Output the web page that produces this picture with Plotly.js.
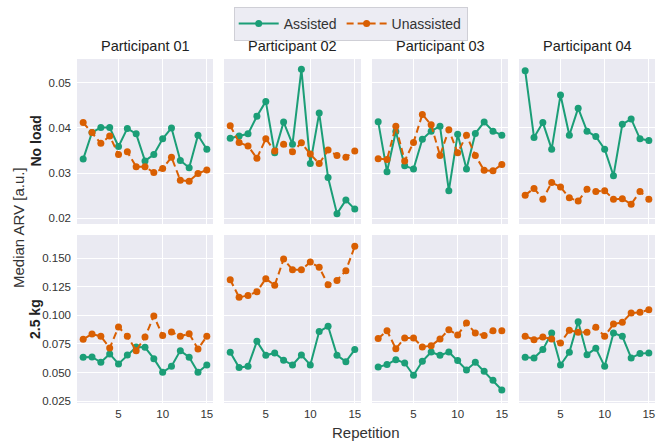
<!DOCTYPE html>
<html>
<head>
<meta charset="utf-8">
<script src="https://cdn.plot.ly/plotly-3.0.1.min.js"></script>
<style>html,body{margin:0;padding:0;background:#fff;}#chart{width:668px;height:442px;}</style>
</head>
<body>
<div id="chart"></div>
<script>
const reps = [1,2,3,4,5,6,7,8,9,10,11,12,13,14,15];
const participants = ["Participant 01","Participant 02","Participant 03","Participant 04"];
const conditions = ["No load","2.5 kg"];
const seriesNames = ["Assisted","Unassisted"];

// No load
const assisted_noload_p01 = [0.0331,0.0390,0.0401,0.0401,0.0359,0.0399,0.0387,0.0327,0.0341,0.0376,0.0400,0.0328,0.0312,0.0384,0.0353];
const unassisted_noload_p01 = [0.0412,0.0390,0.0366,0.0382,0.0341,0.0347,0.0314,0.0314,0.0301,0.0310,0.0335,0.0284,0.0282,0.0299,0.0307];
const assisted_noload_p02 = [0.0377,0.0382,0.0387,0.0426,0.0459,0.0345,0.0413,0.0364,0.0530,0.0321,0.0433,0.0290,0.0210,0.0240,0.0220];
const unassisted_noload_p02 = [0.0405,0.0368,0.0360,0.0333,0.0376,0.0349,0.0364,0.0347,0.0367,0.0342,0.0321,0.0351,0.0339,0.0335,0.0349];
const assisted_noload_p03 = [0.0414,0.0303,0.0392,0.0316,0.0309,0.0375,0.0393,0.0404,0.0261,0.0386,0.0309,0.0388,0.0413,0.0393,0.0384];
const unassisted_noload_p03 = [0.0332,0.0330,0.0404,0.0327,0.0368,0.0430,0.0407,0.0339,0.0396,0.0345,0.0384,0.0339,0.0306,0.0305,0.0319];
const assisted_noload_p04 = [0.0527,0.0379,0.0412,0.0353,0.0473,0.0384,0.0444,0.0393,0.0381,0.0353,0.0294,0.0408,0.0420,0.0376,0.0372];
const unassisted_noload_p04 = [0.0251,0.0266,0.0242,0.0279,0.0269,0.0245,0.0238,0.0264,0.0259,0.0261,0.0242,0.0243,0.0231,0.0259,0.0242];

// 2.5 kg
const assisted_load_p01 = [0.0634,0.0637,0.0590,0.0663,0.0576,0.0654,0.0724,0.0721,0.0622,0.0503,0.0555,0.0692,0.0634,0.0503,0.0567];
const unassisted_load_p01 = [0.0791,0.0837,0.0817,0.0715,0.0898,0.0817,0.0692,0.0811,0.0994,0.0823,0.0855,0.0817,0.0840,0.0706,0.0817];
const assisted_load_p02 = [0.0677,0.0544,0.0555,0.0773,0.0651,0.0672,0.0608,0.0567,0.0654,0.0567,0.0858,0.0904,0.0651,0.0596,0.0701];
const unassisted_load_p02 = [0.1311,0.1157,0.1174,0.1206,0.1320,0.1262,0.1491,0.1398,0.1398,0.1465,0.1419,0.1267,0.1305,0.1390,0.1602];
const assisted_load_p03 = [0.0549,0.0570,0.0613,0.0584,0.0477,0.0599,0.0680,0.0651,0.0680,0.0605,0.0523,0.0590,0.0512,0.0433,0.0349];
const unassisted_load_p03 = [0.0797,0.0866,0.0709,0.0802,0.0802,0.0724,0.0735,0.0794,0.0875,0.0828,0.0933,0.0846,0.0823,0.0866,0.0866];
const assisted_load_p04 = [0.0634,0.0628,0.0701,0.0846,0.0567,0.0677,0.0945,0.0657,0.0712,0.0555,0.0846,0.0817,0.0628,0.0666,0.0672];
const unassisted_load_p04 = [0.0817,0.0788,0.0811,0.0794,0.0759,0.0869,0.0852,0.0852,0.0895,0.0817,0.0924,0.0939,0.1020,0.1026,0.1049];

const xTicks = [5,10,15];
const yTicksTop = [0.02,0.03,0.04,0.05];
const yTicksBottom = [0.025,0.050,0.075,0.100,0.125,0.150];

const grid = [
  [[assisted_noload_p01,unassisted_noload_p01],[assisted_noload_p02,unassisted_noload_p02],[assisted_noload_p03,unassisted_noload_p03],[assisted_noload_p04,unassisted_noload_p04]],
  [[assisted_load_p01,unassisted_load_p01],[assisted_load_p02,unassisted_load_p02],[assisted_load_p03,unassisted_load_p03],[assisted_load_p04,unassisted_load_p04]]
];

const W = 668, H = 442;
const colPx = [[77,213],[224,361],[372,508],[519,655]];
const rowPx = [[59,224],[235,403]];
const colors = ["#1b9e77","#d95f02"];
const dashes = ["solid","7px,4px"];
const FONT = "Liberation Sans, Arial, sans-serif";
const bg = "#eaeaf2";

const traces = [];
const layout = {
  width: W, height: H,
  margin: {l:0,r:0,t:0,b:0},
  paper_bgcolor: "#ffffff",
  plot_bgcolor: bg,
  font: {family: FONT, size: 11, color: "#333"},
  showlegend: true,
  legend: {
    orientation: "h", x: 0.525, xanchor: "center", y: 1 - 7/H, yanchor: "top",
    bgcolor: "#ececf3", bordercolor: "#cfcfd6", borderwidth: 1,
    font: {size: 14, color: "#333", family: FONT}, itemwidth: 40, tracegroupgap: 0
  },
  annotations: [],
  shapes: []
};

let idx = 0;
for (let r = 0; r < 2; r++) {
  for (let c = 0; c < 4; c++) {
    idx++;
    const xa = idx === 1 ? "x" : "x" + idx;
    const ya = idx === 1 ? "y" : "y" + idx;
    const xk = idx === 1 ? "xaxis" : "xaxis" + idx;
    const yk = idx === 1 ? "yaxis" : "yaxis" + idx;
    layout[xk] = {
      domain: [colPx[c][0]/W, colPx[c][1]/W],
      anchor: ya,
      range: [0.3, 15.7],
      tickvals: xTicks,
      showticklabels: r === 1,
      ticks: "", showline: false, zeroline: false,
      gridcolor: "#ffffff", gridwidth: 1,
      ticklabelstandoff: 2,
      tickfont: {size: 11.5, color: "#333"}
    };
    layout[yk] = {
      domain: [1 - rowPx[r][1]/H, 1 - rowPx[r][0]/H],
      anchor: xa,
      range: r === 0 ? [0.0187, 0.0553] : [0.0235, 0.1701],
      tickvals: r === 0 ? yTicksTop : yTicksBottom,
      tickformat: r === 0 ? ".2f" : ".3f",
      showticklabels: c === 0,
      ticks: "", showline: false, zeroline: false,
      gridcolor: "#ffffff", gridwidth: 1,
      ticklabelstandoff: 5,
      tickfont: {size: 11.5, color: "#333"}
    };
    for (let s = 0; s < 2; s++) {
      traces.push({
        type: "scatter", mode: "lines+markers",
        x: reps, y: grid[r][c][s],
        xaxis: xa, yaxis: ya,
        name: seriesNames[s],
        legendgroup: seriesNames[s],
        showlegend: idx === 1,
        line: {color: colors[s], width: 2, dash: dashes[s]},
        marker: {color: colors[s], size: 7}
      });
    }
  }
}

participants.forEach((p, c) => {
  layout.annotations.push({
    text: p, xref: "paper", yref: "paper",
    x: (colPx[c][0] + colPx[c][1]) / 2 / W, y: 1 - 46/H,
    xanchor: "center", yanchor: "middle", showarrow: false,
    font: {size: 14.5, color: "#222", family: FONT}
  });
});
conditions.forEach((cnd, r) => {
  layout.annotations.push({
    text: "<b>" + cnd + "</b>", xref: "paper", yref: "paper",
    x: 35/W, y: 1 - ((rowPx[r][0] + rowPx[r][1]) / 2)/H,
    xanchor: "center", yanchor: "middle", textangle: -90, showarrow: false,
    font: {size: 14, color: "#222", family: FONT}
  });
});
layout.annotations.push({
  text: "Median ARV [a.u.]", xref: "paper", yref: "paper",
  x: 18/W, y: 1 - 228/H, xanchor: "center", yanchor: "middle",
  textangle: -90, showarrow: false, font: {size: 15, color: "#333", family: FONT}
});
layout.annotations.push({
  text: "Repetition", xref: "paper", yref: "paper",
  x: 366/W, y: 1 - 432/H, xanchor: "center", yanchor: "middle",
  showarrow: false, font: {size: 15, color: "#333", family: FONT}
});

Plotly.newPlot("chart", traces, layout, {displayModeBar: false, staticPlot: true});
</script>
</body>
</html>
